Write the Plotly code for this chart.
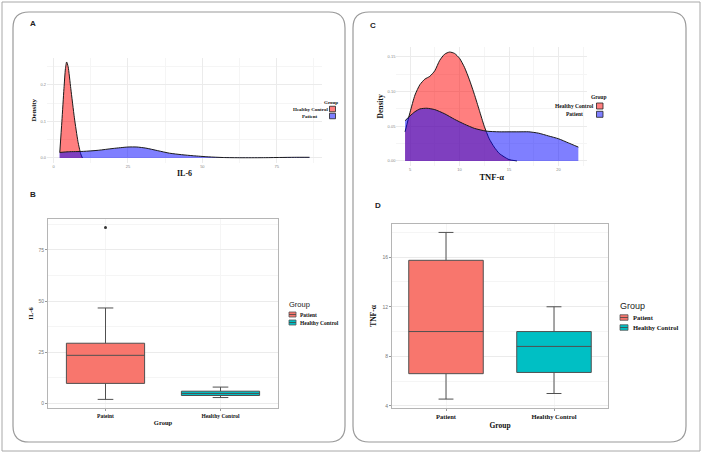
import plotly.graph_objects as go

W, H = 702, 456

# ---------------- data ----------------
density_groups = ["Healthy Control", "Patient"]
box_groups_legend = ["Patient", "Healthy Control"]

# Panel A: IL-6 density
il6_hc_x = [2.1, 2.8, 3.5, 4.0, 4.4, 4.9, 5.8, 7.0, 8.2, 9.1, 9.7]
il6_hc_density = [0.016, 0.10, 0.19, 0.245, 0.263, 0.25, 0.19, 0.11, 0.045, 0.012, 0.0]
il6_pat_x = [2, 5, 10, 15, 20, 25, 28, 31, 35, 39, 43, 47, 52, 57, 63, 70, 76, 81, 86]
il6_pat_density = [0.015, 0.017, 0.018, 0.021, 0.026, 0.030, 0.030, 0.027, 0.020, 0.013,
                   0.009, 0.006, 0.003, 0.0012, 0.0006, 0.0007, 0.0013, 0.0018, 0.0018]

# Panel C: TNF-alpha density
tnf_hc_x = [4.5, 5.0, 5.5, 6.0, 6.5, 7.0, 7.5, 8.0, 8.5, 9.0, 9.5, 10.0, 10.5, 11.0,
            11.5, 12.0, 12.5, 13.0, 13.5, 14.0, 14.5, 15.0, 15.8]
tnf_hc_density = [0.042, 0.07, 0.095, 0.11, 0.118, 0.122, 0.13, 0.145, 0.154, 0.157, 0.155,
                  0.148, 0.135, 0.117, 0.096, 0.073, 0.05, 0.032, 0.02, 0.011, 0.006, 0.002, 0.0]
tnf_pat_x = [4.5, 5.0, 5.5, 6.0, 6.7, 7.5, 8.5, 9.5, 10.5, 11.5, 12.7, 14, 15, 16, 17, 18,
             19, 20, 21, 22]
tnf_pat_density = [0.058, 0.065, 0.071, 0.075, 0.076, 0.074, 0.068, 0.060, 0.053, 0.047,
                   0.043, 0.042, 0.042, 0.042, 0.042, 0.040, 0.036, 0.032, 0.026, 0.020]

# Panel B: IL-6 boxplot
il6_box_cats = ["Pateint", "Healthy Control"]
il6_q1 = [9.8, 3.9]
il6_median = [23.5, 4.9]
il6_q3 = [29.4, 6.0]
il6_lower = [2.0, 2.9]
il6_upper = [46.6, 8.0]
il6_outlier_cat = ["Pateint"]
il6_outlier_val = [85.8]

# Panel D: TNF-alpha boxplot
tnf_box_cats = ["Patient", "Healthy Control"]
tnf_q1 = [6.6, 6.7]
tnf_median = [10.0, 8.8]
tnf_q3 = [15.75, 10.0]
tnf_lower = [4.55, 5.0]
tnf_upper = [18.0, 12.0]

# ---------------- styles ----------------
RED_FILL = "rgba(255,0,0,0.5)"
BLUE_FILL = "rgba(0,0,255,0.5)"
BOX_COLORS = ["#F8766D", "#00BFC4"]
SERIF = "Liberation Serif"
SANS = "Liberation Sans"
GRID = "#ebebeb"
MINOR = "#f5f5f5"


def px(x):
    return x / W


def py(y):
    return 1 - y / H


def rrect(x0, y0, x1, y1, r):
    rx, ry = r / W, r / H
    X0, X1, Y0, Y1 = px(x0), px(x1), py(y0), py(y1)
    return (f"M{X0+rx},{Y0} L{X1-rx},{Y0} Q{X1},{Y0} {X1},{Y0-ry} "
            f"L{X1},{Y1+ry} Q{X1},{Y1} {X1-rx},{Y1} L{X0+rx},{Y1} "
            f"Q{X0},{Y1} {X0},{Y1+ry} L{X0},{Y0-ry} Q{X0},{Y0} {X0+rx},{Y0} Z")


fig = go.Figure()

# density A
for xs, ys, col in [(il6_hc_x, il6_hc_density, RED_FILL), (il6_pat_x, il6_pat_density, BLUE_FILL)]:
    fig.add_trace(go.Scatter(x=xs, y=ys, mode="lines", fill="tozeroy", fillcolor=col,
                             line=dict(color="#1a1a1a", width=1, shape="spline", smoothing=0.6),
                             xaxis="x", yaxis="y", showlegend=False, hoverinfo="skip"))
# density C
for xs, ys, col in [(tnf_hc_x, tnf_hc_density, RED_FILL), (tnf_pat_x, tnf_pat_density, BLUE_FILL)]:
    fig.add_trace(go.Scatter(x=xs, y=ys, mode="lines", fill="tozeroy", fillcolor=col,
                             line=dict(color="#1a1a1a", width=1, shape="spline", smoothing=0.6),
                             xaxis="x3", yaxis="y3", showlegend=False, hoverinfo="skip"))

# box B
for i in range(2):
    fig.add_trace(go.Box(x=[il6_box_cats[i]], q1=[il6_q1[i]], median=[il6_median[i]],
                         q3=[il6_q3[i]], lowerfence=[il6_lower[i]], upperfence=[il6_upper[i]],
                         fillcolor=BOX_COLORS[i], line=dict(color="#505050", width=1),
                         width=0.68, whiskerwidth=0.2, boxpoints=False,
                         xaxis="x2", yaxis="y2", showlegend=False))
fig.add_trace(go.Scatter(x=il6_outlier_cat, y=il6_outlier_val, mode="markers",
                         marker=dict(color="#333", size=3), xaxis="x2", yaxis="y2",
                         showlegend=False))
# box D
for i in range(2):
    fig.add_trace(go.Box(x=[tnf_box_cats[i]], q1=[tnf_q1[i]], median=[tnf_median[i]],
                         q3=[tnf_q3[i]], lowerfence=[tnf_lower[i]], upperfence=[tnf_upper[i]],
                         fillcolor=BOX_COLORS[i], line=dict(color="#505050", width=1),
                         width=0.69, whiskerwidth=0.2, boxpoints=False,
                         xaxis="x4", yaxis="y4", showlegend=False))


def dens_axis(domain, rng, dtick, mdtick, fmt=None, title=None, tsize=7, standoff=2, **kw):
    d = dict(domain=domain, range=rng, dtick=dtick, tick0=0, showgrid=True, gridcolor=GRID,
             gridwidth=1, zeroline=False, showline=False, ticks="",
             tickfont=dict(family=SANS, size=4, color="#888"),
             minor=dict(showgrid=True, gridcolor=MINOR, dtick=mdtick),
             title=dict(text=f"<b>{title}</b>", font=dict(family=SERIF, size=tsize, color="#111"),
                        standoff=standoff))
    if fmt:
        d["tickformat"] = fmt
    d.update(kw)
    return d


def box_yaxis(domain, rng, dtick, tick0, mdtick, title, tsize, standoff):
    return dict(domain=domain, range=rng, dtick=dtick, tick0=tick0, showgrid=True,
                gridcolor=GRID, zeroline=False, showline=True, mirror=True,
                linecolor="#b5b5b5", linewidth=1, ticks="outside", ticklen=2, tickcolor="#999",
                tickfont=dict(family=SANS, size=5, color="#777"),
                minor=dict(showgrid=True, gridcolor=MINOR, dtick=mdtick),
                title=dict(text=f"<b>{title}</b>", font=dict(family=SERIF, size=tsize, color="#111"),
                           standoff=standoff))


def box_xaxis(domain, cats, fsize, tsize, standoff):
    return dict(domain=domain, type="category", categoryorder="array", categoryarray=cats,
                range=[-0.5, 1.5], showgrid=True, gridcolor=MINOR, zeroline=False,
                showline=True, mirror=True, linecolor="#b5b5b5", linewidth=1,
                ticks="outside", ticklen=2, tickcolor="#999",
                tickfont=dict(family=SERIF, size=fsize, color="#111", weight="bold"),
                title=dict(text="<b>Group</b>", font=dict(family=SERIF, size=tsize, color="#111"),
                           standoff=standoff))


layout = dict(
    width=W, height=H, margin=dict(l=0, r=0, t=0, b=0),
    paper_bgcolor="white", plot_bgcolor="white", boxmode="overlay", showlegend=False,
    xaxis=dens_axis([px(47), px(322)], [-2.2, 90.2], 25, 12.5, title="IL-6", tsize=8,
                    standoff=2, anchor="y"),
    yaxis=dens_axis([py(162.7), py(57.6)], [-0.013, 0.275], 0.1, 0.05, fmt=".1f",
                    title="Density", tsize=7, standoff=2, anchor="x"),
    xaxis3=dens_axis([px(396.4), px(587)], [3.625, 22.875], 5, 2.5, title="TNF-α", tsize=8.5,
                     standoff=2, anchor="y3"),
    yaxis3=dens_axis([py(166.4), py(46.5)], [-0.00785, 0.165], 0.05, 0.025, fmt=".2f",
                     title="Density", tsize=7.5, standoff=2, anchor="x3"),
    xaxis2=dict(box_xaxis([px(48), px(278)], il6_box_cats, 5.5, 6.5, 2), anchor="y2"),
    yaxis2=dict(box_yaxis([py(408), py(219)], [-2.2, 90.0], 25, 0, 12.5, "IL-6", 6.5, 4),
                anchor="x2"),
    xaxis4=dict(box_xaxis([px(392), px(608)], tnf_box_cats, 6.5, 7.5, 3), anchor="y4"),
    yaxis4=dict(box_yaxis([py(408), py(224)], [3.83, 18.68], 4, 4, 2, "TNF-α", 7.5, 4),
                anchor="x4"),
)
fig.update_layout(**layout)

shapes = []
annotations = []
# frames
shapes.append(dict(type="rect", xref="paper", yref="paper", x0=px(2), x1=px(700), y0=py(451),
                   y1=py(2), line=dict(color="#a8a8a8", width=1), layer="below"))
for (a, b, c, d) in [(13, 12, 345, 442), (353, 12, 686, 442)]:
    shapes.append(dict(type="path", xref="paper", yref="paper", path=rrect(a, b, c, d, 16),
                       line=dict(color="#9a9a9a", width=1.2), layer="below"))

# panel letters
for lab, x, y in [("A", 33, 24), ("B", 33, 195), ("C", 373, 25), ("D", 378, 206)]:
    annotations.append(dict(text=f"<b>{lab}</b>", x=px(x), y=py(y), xref="paper", yref="paper",
                            showarrow=False, xanchor="center", yanchor="middle",
                            font=dict(family=SANS, size=8, color="#222")))


def density_legend(gx, gy, tx, rows, sw_x0, sw_x1, sw_h, fsize):
    annotations.append(dict(text="<b>Group</b>", x=px(gx), y=py(gy), xref="paper", yref="paper",
                            showarrow=False, xanchor="center", yanchor="middle",
                            font=dict(family=SERIF, size=fsize, color="#111")))
    for name, col, ry in zip(density_groups, [RED_FILL, BLUE_FILL], rows):
        annotations.append(dict(text=f"<b>{name}</b>", x=px(tx), y=py(ry), xref="paper",
                                yref="paper", showarrow=False, xanchor="center",
                                yanchor="middle",
                                font=dict(family=SERIF, size=fsize, color="#111")))
        shapes.append(dict(type="rect", xref="paper", yref="paper", x0=px(sw_x0), x1=px(sw_x1),
                           y0=py(ry + sw_h / 2), y1=py(ry - sw_h / 2), fillcolor=col,
                           line=dict(color="#222", width=0.8)))


density_legend(331, 102, 310, [109, 116], 329.5, 335.5, 5.5, 5)
density_legend(598.5, 97.5, 574.5, [106, 114.3], 596.5, 603, 6, 5.5)


def box_legend(gx, gy, gsize, tx, rows, sw_x0, sw_x1, sw_h, fsize):
    annotations.append(dict(text="Group", x=px(gx), y=py(gy), xref="paper", yref="paper",
                            showarrow=False, xanchor="left", yanchor="middle",
                            font=dict(family=SANS, size=gsize, color="#222")))
    for name, col, ry in zip(box_groups_legend, BOX_COLORS, rows):
        annotations.append(dict(text=f"<b>{name}</b>", x=px(tx), y=py(ry), xref="paper",
                                yref="paper", showarrow=False, xanchor="left",
                                yanchor="middle",
                                font=dict(family=SERIF, size=fsize, color="#111")))
        shapes.append(dict(type="rect", xref="paper", yref="paper", x0=px(sw_x0), x1=px(sw_x1),
                           y0=py(ry + sw_h / 2), y1=py(ry - sw_h / 2), fillcolor=col,
                           line=dict(color="#555", width=0.8)))
        shapes.append(dict(type="line", xref="paper", yref="paper", x0=px(sw_x0), x1=px(sw_x1),
                           y0=py(ry), y1=py(ry), line=dict(color="#444", width=0.8)))


box_legend(287, 304, 7.5, 297.5, [314.5, 322.5], 289, 296, 5, 5.5)
box_legend(618, 306, 9, 630.5, [317.5, 327.5], 620, 628, 5.5, 6.5)

fig.update_layout(shapes=shapes, annotations=annotations)
fig.write_html("out.html", config={"displayModeBar": False},
               post_script="document.body.style.margin='0';document.body.style.padding='0';")
